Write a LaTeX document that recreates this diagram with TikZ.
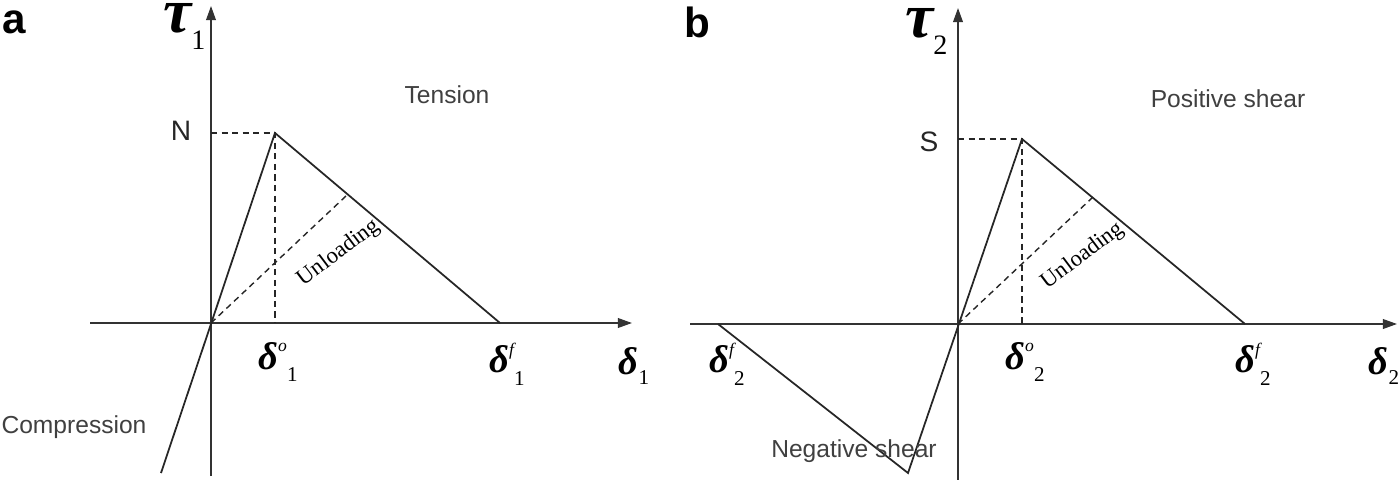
\documentclass[tikz,border=0pt]{standalone}
\usepackage{fontspec}
\setmainfont{Liberation Sans}
\newfontfamily\tnr{Liberation Serif}
\usetikzlibrary{arrows.meta}
\newcommand{\dsym}[2]{{\tnr\bfseries\itshape\fontsize{22}{22}\selectfont δ}\raisebox{10pt}{\tnr\itshape\fontsize{10}{10}\selectfont #1}\raisebox{-7pt}{\tnr\fontsize{12}{12}\selectfont #2}}
\newcommand{\dax}[1]{{\tnr\bfseries\itshape\fontsize{22}{22}\selectfont δ}\raisebox{-6pt}{\tnr\fontsize{12}{12}\selectfont #1}}
\newcommand{\tsym}[1]{{\tnr\bfseries\itshape\fontsize{36}{36}\selectfont τ}\raisebox{-10pt}{\tnr\fontsize{16}{16}\selectfont #1}}
\begin{document}
\begin{tikzpicture}[x=0.02cm,y=-0.02cm,
  ln/.style={line width=1pt, draw=black!85},
  dsh/.style={line width=0.8pt, draw=black!85, dash pattern=on 3.5pt off 2.5pt},
  axis/.style={line width=0.9pt, draw=black!80, -{Triangle[length=8pt,width=5.5pt]}},
  lbl/.style={font=\fontsize{14}{16}\selectfont, text=black!75, inner sep=0pt},
  big/.style={font=\fontsize{16}{18}\selectfont, text=black!85, inner sep=0pt},
  pan/.style={font=\bfseries\fontsize{24}{26}\selectfont, inner sep=0pt},
  sym/.style={inner sep=0pt},
  unl/.style={font=\tnr\fontsize{13}{15}\selectfont, inner sep=0pt, rotate=37}]
\useasboundingbox (0,0) rectangle (1400,480);

% ---------- panel a ----------
\coordinate (axL) at (90,323);
\coordinate (axR) at (632,323);
\coordinate (ayB) at (211,476);
\coordinate (ayT) at (211,6);
\coordinate (Oa) at (211,323);
\coordinate (Pa) at (275,133);
\coordinate (Fa) at (500,323);
\coordinate (Ca) at (161,473);
\coordinate (Ua) at (346,196);
\coordinate (Na) at (211,133);
\coordinate (Da) at (275,323);

\draw[axis] (axL) -- (axR);
\draw[axis] (ayB) -- (ayT);
\draw[ln] (Ca) -- (Pa) -- (Fa);
\draw[dsh] (Na) -- (Pa) -- (Da);
\draw[dsh] (Oa) -- (Ua);

\node[pan] (la) at (14,22) {a};
\node[sym, anchor=base west] (t1) at (163,32) {\tsym{1}};
\node[big] (nN) at (181,131) {N};
\node[lbl] (ten) at (447,95) {Tension};
\node[lbl] (comp) at (74,427) {Compression};
\node[unl] (ula) at (339,253) {Unloading};
\node[sym] (d01) at (278,362) {\dsym{o}{1}};
\node[sym] (df1) at (507,364) {\dsym{f}{1}};
\node[sym] (d1) at (634,366) {\dax{1}};

% ---------- panel b ----------
\coordinate (bxL) at (690,324);
\coordinate (bxR) at (1397,324);
\coordinate (byB) at (958,480);
\coordinate (byT) at (958,8);
\coordinate (Ob) at (958,324);
\coordinate (Pb) at (1022,139);
\coordinate (Fb) at (1245,324);
\coordinate (Ub) at (1093,197);
\coordinate (Sb) at (958,139);
\coordinate (Db) at (1022,324);
\coordinate (Mb) at (908,473);
\coordinate (Gb) at (718,324);

\draw[axis] (bxL) -- (bxR);
\draw[axis] (byB) -- (byT);
\draw[ln] (Gb) -- (Mb) -- (Pb) -- (Fb);
\draw[dsh] (Sb) -- (Pb) -- (Db);
\draw[dsh] (Ob) -- (Ub);

\node[pan] (lb) at (697,22) {b};
\node[sym, anchor=base west] (t2) at (905,37) {\tsym{2}};
\node[big] (nS) at (929,142) {S};
\node[lbl] (pos) at (1228,99) {Positive shear};
\node[lbl] (neg) at (854,451) {Negative shear};
\node[unl] (ulb) at (1083,256) {Unloading};
\node[sym] (d02) at (1025,362) {\dsym{o}{2}};
\node[sym] (df2) at (1253,364) {\dsym{f}{2}};
\node[sym] (dfl) at (727,364) {\dsym{f}{2}};
\node[sym] (d2) at (1384,366) {\dax{2}};
\end{tikzpicture}
\end{document}
